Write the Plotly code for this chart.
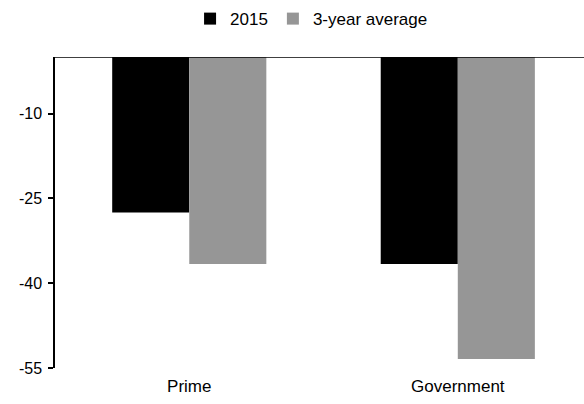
import plotly.graph_objects as go

categories = ["Prime", "Government"]
series_2015 = [-27.5, -36.6]
series_3yr = [-36.6, -53.4]
y_ticks = [-10, -25, -40, -55]

FONT = "Liberation Sans Narrow, Arial Narrow, Liberation Sans, Arial"

fig = go.Figure()
fig.add_trace(go.Bar(x=[0, 1], y=series_2015, name="2015",
                     marker=dict(color="#000000", line=dict(width=0))))
fig.add_trace(go.Bar(x=[0, 1], y=series_3yr, name="3-year average",
                     marker=dict(color="#969696", line=dict(width=0))))

fig.add_shape(type="line", xref="paper", x0=0, x1=1, yref="y", y0=0, y1=0,
              line=dict(color="black", width=1.5), layer="above")

fig.update_layout(
    width=584, height=404,
    margin=dict(l=55, r=0, t=57, b=36),
    paper_bgcolor="white", plot_bgcolor="white",
    barmode="group", bargap=0.426, bargroupgap=0,
    font=dict(family=FONT, size=17, color="black"),
    showlegend=True,
    legend=dict(orientation="h", x=0.485, xanchor="center", y=1.122, yanchor="middle",
                font=dict(family=FONT, size=17, color="black"),
                itemwidth=30, tracegroupgap=0),
    xaxis=dict(range=[-0.5, 1.47], tickmode="array", tickvals=[0, 1], ticktext=categories,
               showline=False, showgrid=False, zeroline=False, ticks="",
               ticklabelstandoff=6,
               tickfont=dict(family=FONT, size=17)),
    yaxis=dict(range=[-55, 0], tickmode="array", tickvals=y_ticks,
               ticktext=[str(v) for v in y_ticks],
               showline=True, linecolor="black", linewidth=1.5,
               ticks="outside", ticklen=5, tickcolor="black", tickwidth=1.5,
               ticklabelstandoff=3,
               showgrid=False, zeroline=False,
               tickfont=dict(family=FONT, size=16)),
)

fig.write_html("out.html")
